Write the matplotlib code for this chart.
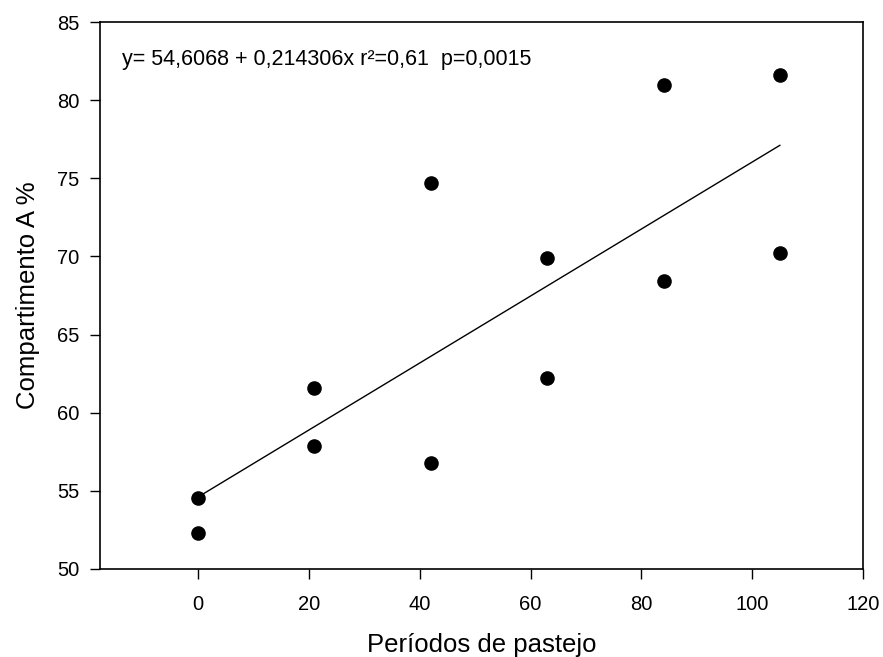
import matplotlib.pyplot as plt
import numpy as np

plt.rcParams["font.family"] = ["Liberation Sans", "DejaVu Sans"]

# dados
periodos = [0, 0, 21, 21, 42, 42, 63, 63, 84, 84, 105, 105]
compartimento_a = [54.55, 52.3, 61.6, 57.9, 74.7, 56.75, 69.9, 62.25, 81.0, 68.45, 81.6, 70.2]

# regressão
intercepto = 54.6068
inclinacao = 0.214306
eq_texto = "y= 54,6068 + 0,214306x r²=0,61  p=0,0015"

fig = plt.figure(figsize=(8.83, 6.57), dpi=100)
ax = fig.add_axes([0.1133, 0.134, 0.864, 0.8325])

ax.scatter(periodos, compartimento_a, s=90, color="black", zorder=3)
x_reg = np.array([min(periodos), max(periodos)])
ax.plot(x_reg, intercepto + inclinacao * x_reg, color="black", linewidth=1)

ax.text(-13.7, 82.6, eq_texto, fontsize=15.5, va="center", ha="left")

ax.set_xlim(-17.7, 120)
ax.set_ylim(50, 85)
ax.set_xticks(range(0, 121, 20))
ax.set_yticks(range(50, 86, 5))
ax.tick_params(direction="out", length=7, width=1, labelsize=14.5, pad=8)
ax.tick_params(axis="x", pad=11.5)
for s in ax.spines.values():
    s.set_linewidth(1.2)

ax.set_xlabel("Períodos de pastejo", fontsize=18.5, labelpad=14)
ax.set_ylabel("Compartimento A %", fontsize=18.5, labelpad=12)

fig.savefig("out.png", dpi=100)
